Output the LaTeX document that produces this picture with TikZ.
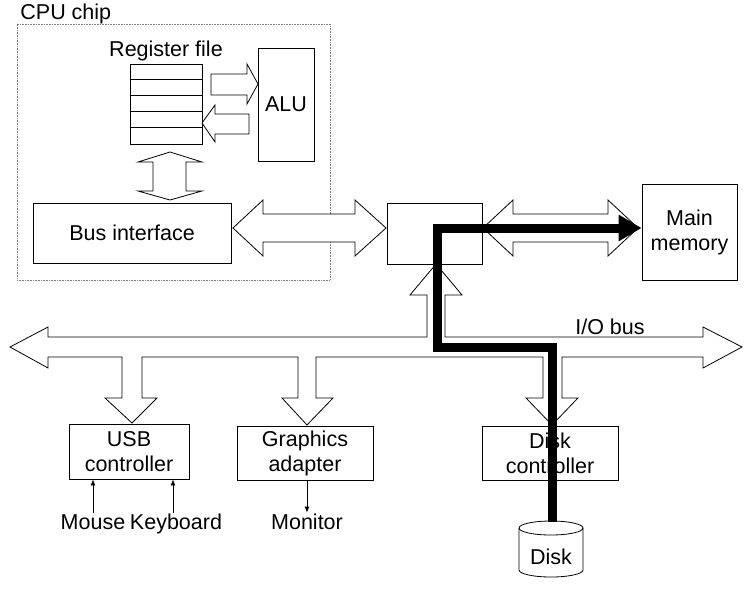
\documentclass[tikz,border=0pt]{standalone}
\usepackage{fontspec}
\setmainfont{Liberation Sans}
\usetikzlibrary{arrows.meta,positioning,calc}

\begin{document}
\begin{tikzpicture}[x=1pt, y=-1pt, >={Latex[length=6pt,width=5pt]},
  font=\fontsize{21.5}{25}\selectfont, line width=0.8pt,
  box/.style={draw, align=center, inner sep=0pt},
  fat/.style={draw, fill=white, line join=miter},
  lbl/.style={inner sep=1pt, text height=15.5pt, text depth=4.5pt}]
  \useasboundingbox (0,0) rectangle (751,597);

  % CPU chip
  \node[draw, gray, densely dotted, line width=0.6pt, minimum width=313, minimum height=256] (cpu) at (173.5,152) {};
  \node[lbl, anchor=west] (cpulbl) at (19,14) {CPU chip};
  \node[box, minimum width=72, minimum height=80] (reg) at (166,104) {};
  \foreach \i in {1,...,4}
    \draw (reg.north west) ++(0,16*\i) -- ++(72,0);
  \node[lbl, above=1pt of reg] (reglbl) {Register file};
  \node[box, minimum width=56, minimum height=113] (alu) at (286,104.5) {ALU};
  \node[box, minimum width=198, minimum height=60] (busif) at (132,233) {Bus interface};

  % bridge and memory
  \node[box, minimum width=95, minimum height=61] (bridge) at (434.5,233.5) {};
  \node[box, minimum width=95, minimum height=96] (mem) at (689.5,232) {Main\\memory};

  % I/O devices
  \node[box, minimum width=120, minimum height=55] (usb) at (129,451.5) {USB\\controller};
  \node[box, minimum width=136, minimum height=54] (gfx) at (305,453) {Graphics\\adapter};
  \node[box, minimum width=136, minimum height=54] (diskctl) at (550,453) {Disk\\controller};
  \node[lbl] (disk) at (551,559) {Disk};
  \draw (519,528) -- (519,570) arc[start angle=180, end angle=360, x radius=32pt, y radius=7pt] -- (583,528);
  \draw (551,528) ellipse [x radius=32pt, y radius=7pt];

  \node[lbl] (mouse) at (93,524) {Mouse};
  \node[lbl] (keyb) at (176,524) {Keyboard};
  \node[lbl] (monitor) at (307,524) {Monitor};
  \node[lbl] (iolbl) at (610,329) {I/O bus};

  % wide arrows
  \draw[fat] (211,74) -- (247,74) -- (247,64) -- (258,84) -- (247,104) -- (247,95) -- (211,95) -- cycle;
  \draw[fat] (249,114) -- (215,114) -- (215,105) -- (202,123) -- (215,142) -- (215,134) -- (249,134) -- cycle;
  \draw[fat] (170,152) -- (202,162) -- (186,162) -- (186,191) -- (202,191) -- (170,200)
    -- (138,191) -- (153,191) -- (153,162) -- (138,162) -- cycle;
  \draw[fat] (233,228) -- (263,200) -- (263,214) -- (355,214) -- (355,200) -- (386,228)
    -- (355,256) -- (355,242) -- (263,242) -- (263,256) -- cycle;
  \draw[fat] (483,228) -- (513,200) -- (513,214) -- (608,214) -- (608,200) -- (638,228)
    -- (608,256) -- (608,242) -- (513,242) -- (513,256) -- cycle;

  % I/O bus
  \draw[fat] (10,347) -- (48,327) -- (48,337) -- (427,337) -- (427,295) -- (410,295) -- (436,264)
    -- (462,295) -- (445,295) -- (445,337) -- (703,337) -- (703,327) -- (742,347)
    -- (703,368) -- (703,357) -- (562,357) -- (562,398) -- (578,398) -- (552,425)
    -- (526,398) -- (543,398) -- (543,357) -- (316,357) -- (316,398) -- (333,398)
    -- (307,425) -- (282,398) -- (298,398) -- (298,357) -- (142,357) -- (142,398)
    -- (157,398) -- (132,423) -- (105,398) -- (122,398) -- (122,357) -- (48,357)
    -- (48,368) -- cycle;

  \draw[->] (mouse.north) -- (mouse.north |- usb.south);
  \draw[->] ([xshift=-3pt]keyb.north) -- ([xshift=-3pt]keyb.north |- usb.south);
  \draw[->] (gfx.south -| monitor) -- (monitor.north);

  % read path from disk to memory
  \coordinate (disktop) at (552,522);
  \coordinate (bend) at (437,347);
  \draw[line width=9pt, -{Triangle[length=23pt,width=25pt]}]
    (disktop) |- (bend) |- ([yshift=4pt]mem.west);
\end{tikzpicture}
\end{document}
